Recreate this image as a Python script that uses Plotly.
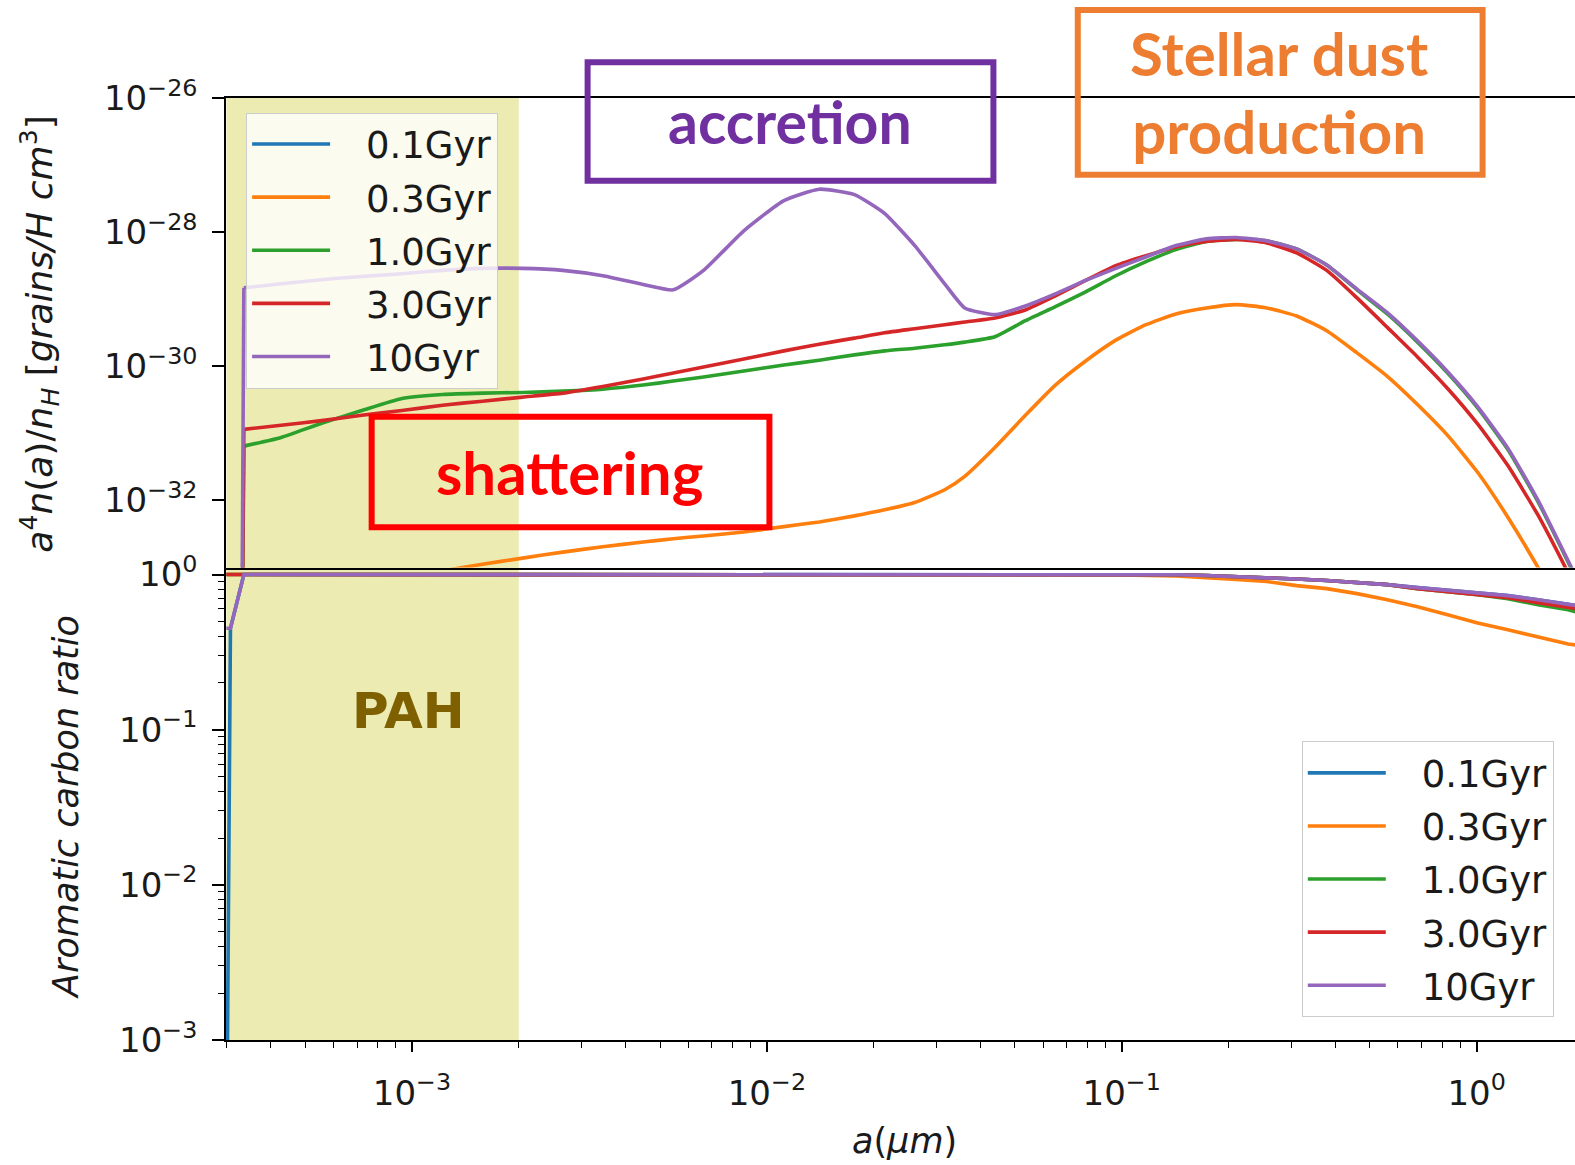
import numpy as np
import plotly.graph_objects as go

# ---------------- data ----------------
series_names = ["0.1Gyr", "0.3Gyr", "1.0Gyr", "3.0Gyr", "10Gyr"]
series_colors = ["#1f77b4", "#ff7f0e", "#2ca02c", "#d62728", "#9467bd"]

# grain radius a (micron), top panel
a_top = [3.3e-4, 3.36e-4, 4.28e-4, 5.56e-4, 7.22e-4, 9.37e-4, 1.22e-3, 1.58e-3, 2.05e-3, 2.66e-3,
         3.45e-3, 4.48e-3, 5.45e-3, 6.63e-3, 8.61e-3, 1.117e-2, 1.404e-2, 1.764e-2, 2.145e-2, 2.61e-2,
         3.17e-2, 3.61e-2, 4.39e-2, 5.35e-2, 6.50e-2, 7.91e-2, 9.62e-2, 0.117, 0.142, 0.173,
         0.210, 0.256, 0.311, 0.378, 0.460, 0.560, 0.681, 0.828, 1.006, 1.224, 1.489, 1.81, 2.0]

# log10 of a^4 n(a)/n_H
log_n_01 = [-40.0, -39.5, -39.2, -38.9, -38.6, -38.4, -38.2, -38.0, -37.8, -37.6,
            -37.4, -37.2, -37.0, -36.9, -36.8, -36.7, -36.6, -36.5, -36.4, -36.3,
            -36.2, -36.1, -36.0, -35.9, -35.8, -35.7, -35.6, -35.5, -35.4, -35.3,
            -35.3, -35.3, -35.4, -35.5, -35.6, -35.8, -36.0, -36.3, -36.6, -37.0, -37.5, -38.0, -38.3]
log_n_03 = [-36.0, -33.57, -33.47, -33.37, -33.26, -33.16, -33.05, -32.95, -32.86, -32.77,
            -32.69, -32.62, -32.57, -32.53, -32.47, -32.39, -32.32, -32.23, -32.14, -32.03,
            -31.84, -31.64, -31.21, -30.73, -30.28, -29.92, -29.61, -29.38, -29.22, -29.13,
            -29.08, -29.13, -29.25, -29.47, -29.80, -30.15, -30.57, -31.03, -31.58, -32.25, -33.00, -33.80, -34.20]
log_n_10 = [-36.0, -31.19, -31.06, -30.85, -30.66, -30.48, -30.42, -30.40, -30.39, -30.37,
            -30.34, -30.28, -30.22, -30.16, -30.07, -29.98, -29.91, -29.83, -29.77, -29.73,
            -29.68, -29.64, -29.56, -29.32, -29.11, -28.89, -28.65, -28.44, -28.26, -28.14,
            -28.11, -28.13, -28.25, -28.49, -28.86, -29.22, -29.64, -30.10, -30.62, -31.24, -32.02, -32.92, -33.40]
log_n_30 = [-36.0, -30.94, -30.88, -30.81, -30.73, -30.66, -30.58, -30.52, -30.46, -30.40,
            -30.30, -30.19, -30.10, -30.01, -29.89, -29.77, -29.67, -29.58, -29.50, -29.44,
            -29.38, -29.34, -29.28, -29.16, -28.95, -28.72, -28.50, -28.35, -28.22, -28.14,
            -28.11, -28.16, -28.31, -28.57, -28.98, -29.42, -29.86, -30.33, -30.86, -31.48, -32.22, -33.08, -33.55]
log_n_100 = [-36.0, -28.83, -28.77, -28.71, -28.66, -28.62, -28.57, -28.54, -28.54, -28.57,
             -28.65, -28.78, -28.86, -28.57, -27.98, -27.53, -27.36, -27.44, -27.72, -28.20,
             -28.77, -29.13, -29.23, -29.10, -28.92, -28.72, -28.54, -28.37, -28.20, -28.10,
             -28.08, -28.13, -28.25, -28.49, -28.85, -29.20, -29.62, -30.08, -30.60, -31.22, -32.00, -32.90, -33.37]

# grain radius a (micron), bottom panel
a_bot = [3.0e-4, 3.08e-4, 3.36e-4, 1.0e-3, 1.0e-2, 0.1, 0.142, 0.173, 0.21, 0.256, 0.311,
         0.378, 0.46, 0.56, 0.681, 0.828, 1.006, 1.224, 1.489, 1.81, 2.0]
# aromatic carbon ratio
ratio_01 = [1e-4, 0.45, 1.0, 1.0, 1.0, 1.0, 0.9955, 0.985, 0.970, 0.956, 0.935,
            0.914, 0.887, 0.861, 0.823, 0.793, 0.764, 0.731, 0.688, 0.648, 0.620]
ratio_03 = [1.0, 1.0, 1.0, 1.0, 1.0, 0.995, 0.978, 0.956, 0.928, 0.901, 0.848,
            0.811, 0.753, 0.688, 0.620, 0.550, 0.487, 0.440, 0.396, 0.357, 0.346]
ratio_10 = [1.0, 1.0, 1.0, 1.0, 1.0, 1.0, 0.9955, 0.985, 0.970, 0.956, 0.935,
            0.914, 0.887, 0.861, 0.811, 0.776, 0.742, 0.699, 0.638, 0.593, 0.558]
ratio_30 = [1.0, 1.0, 1.0, 1.0, 1.0, 1.0, 0.9955, 0.985, 0.970, 0.956, 0.935,
            0.914, 0.887, 0.861, 0.811, 0.776, 0.742, 0.709, 0.658, 0.620, 0.593]
ratio_100 = [0.45, 0.45, 1.0, 1.0, 1.0, 1.0, 0.9955, 0.985, 0.970, 0.956, 0.935,
             0.914, 0.887, 0.861, 0.823, 0.793, 0.764, 0.731, 0.688, 0.648, 0.620]

# tick labels
top_y_tickvals = [1e-32, 1e-30, 1e-28, 1e-26]
top_y_ticktext = ["10<sup>−32</sup>", "10<sup>−30</sup>", "10<sup>−28</sup>", "10<sup>−26</sup>"]
bot_y_tickvals = [1e-3, 1e-2, 1e-1, 1e0]
bot_y_ticktext = ["10<sup>−3</sup>", "10<sup>−2</sup>", "10<sup>−1</sup>", "10<sup>0</sup>"]
x_tickvals = [1e-3, 1e-2, 1e-1, 1e0]
x_ticktext = ["10<sup>−3</sup>", "10<sup>−2</sup>", "10<sup>−1</sup>", "10<sup>0</sup>"]

pah_range = [3.0e-4, 2.0e-3]   # PAH size band (micron)
x_range_log = [-3.524, 0.277]

top_series = [log_n_01, log_n_03, log_n_10, log_n_30, log_n_100]
bot_series = [ratio_01, ratio_03, ratio_10, ratio_30, ratio_100]

# ---------------- figure ----------------
W, H = 1575, 1165
ML, MR, MT, MB = 226, 0, 98, 125
PW, PH = W - ML - MR, H - MT - MB
K = 1575 / 1568.0   # layout positions below measured on a 1568-wide view


def px(xd):
    return (xd * K - ML) / PW


def py(yd):
    return (H - MB - yd * K) / PH


split = py(565)
NB = "\u00a0\u00a0\u2009"

fig = go.Figure()
for i, (nm, col) in enumerate(zip(series_names, series_colors)):
    yv = np.power(10.0, top_series[i])
    # steep rise at the smallest size
    fig.add_trace(go.Scatter(x=a_top[:2], y=yv[:2], mode="lines", showlegend=False,
                             line=dict(color=col, width=3.6), xaxis="x", yaxis="y",
                             legend="legend", legendgroup="t%d" % i, hoverinfo="skip"))
    fig.add_trace(go.Scatter(x=a_top[1:], y=yv[1:], mode="lines", name=NB + nm,
                             line=dict(color=col, width=3.6, shape="spline", smoothing=0.5),
                             xaxis="x", yaxis="y", legend="legend", legendgroup="t%d" % i))
for i, (nm, col) in enumerate(zip(series_names, series_colors)):
    fig.add_trace(go.Scatter(x=a_bot, y=bot_series[i], mode="lines", name=NB + nm,
                             line=dict(color=col, width=3.6), xaxis="x2", yaxis="y2",
                             legend="legend2", legendgroup="b%d" % i))

tickfont = dict(family="DejaVu Sans", size=34, color="#1a1a1a")
axcommon = dict(type="log", showgrid=False, zeroline=False, showline=True, linecolor="black",
                linewidth=1.5, tickcolor="black", tickwidth=1.5, tickfont=tickfont, automargin=False)
minor_ticks = dict(ticks="outside", ticklen=6, tickcolor="black", tickwidth=1.2, dtick="D1", showgrid=False)
legfont = dict(family="DejaVu Sans", size=37, color="#1a1a1a")

fig.update_layout(
    width=W, height=H,
    margin=dict(l=ML, r=MR, t=MT, b=MB),
    paper_bgcolor="white", plot_bgcolor="white",
    xaxis=dict(axcommon, domain=[0, 1], anchor="y", range=x_range_log, matches="x2",
               showticklabels=False, ticks="", mirror=True),
    yaxis=dict(axcommon, domain=[split, 1], anchor="x", range=[-33, -26],
               tickvals=top_y_tickvals, ticktext=top_y_ticktext,
               ticks="outside", ticklen=12, ticklabelstandoff=8),
    xaxis2=dict(axcommon, domain=[0, 1], anchor="y2", range=x_range_log,
                tickvals=x_tickvals, ticktext=x_ticktext,
                ticks="outside", ticklen=10, ticklabelstandoff=12, minor=minor_ticks),
    yaxis2=dict(axcommon, domain=[0, split], anchor="x2", range=[-3, 0.045],
                tickvals=bot_y_tickvals, ticktext=bot_y_ticktext,
                ticks="outside", ticklen=12, ticklabelstandoff=8, minor=minor_ticks),
    legend=dict(x=px(245), y=py(112), xanchor="left", yanchor="top",
                bgcolor="rgba(255,255,255,0.8)", bordercolor="#cccccc", borderwidth=1,
                font=legfont, itemwidth=78, tracegroupgap=2, traceorder="grouped"),
    legend2=dict(x=px(1296), y=py(738), xanchor="left", yanchor="top",
                 bgcolor="rgba(255,255,255,0.8)", bordercolor="#cccccc", borderwidth=1,
                 font=legfont, itemwidth=78, tracegroupgap=2, traceorder="grouped"),
    showlegend=True,
)

# PAH band (both panels)
fx0 = (np.log10(pah_range[0]) - x_range_log[0]) / (x_range_log[1] - x_range_log[0])
fx1 = (np.log10(pah_range[1]) - x_range_log[0]) / (x_range_log[1] - x_range_log[0])
fig.add_shape(type="rect", xref="paper", yref="paper", x0=max(fx0, 0), x1=fx1, y0=0, y1=1,
              fillcolor="rgba(191,191,0,0.3)", line=dict(width=0), layer="below")

# Annotation boxes
boxes = [
    (585, 989, 62, 180, "#7030a0"),
    (1073, 1476, 10, 174, "#ed7d31"),
    (370, 766, 415, 525, "#ff0000"),
]
for x0, x1, y0, y1, c in boxes:
    fig.add_shape(type="rect", xref="paper", yref="paper", x0=px(x0), x1=px(x1), y0=py(y0), y1=py(y1),
                  line=dict(color=c, width=6), fillcolor="rgba(0,0,0,0)", layer="above")

labels = [
    ("accretion", 786, 121, "#7030a0", "Lato", 59),
    ("Stellar dust<br>production", 1273, 92, "#ed7d31", "Lato", 60),
    ("shattering", 567, 470, "#ff0000", "Lato", 60),
    ("PAH", 407, 708, "#7f6000", "DejaVu Sans", 50),
]
for txt, x, y, c, fam, sz in labels:
    fig.add_annotation(text="<b>%s</b>" % txt, xref="paper", yref="paper", x=px(x), y=py(y),
                       xanchor="center", yanchor="middle", showarrow=False,
                       font=dict(family=fam, size=sz, color=c))

# axis titles
fig.add_annotation(text="<i>a</i><sup>4</sup><i>n</i>(<i>a</i>)/<i>n</i><sub><i>H</i></sub> [<i>grains/H cm</i><sup>3</sup>]",
                   xref="paper", yref="paper", x=px(40), y=py(333), textangle=-90,
                   xanchor="center", yanchor="middle",
                   showarrow=False, font=dict(family="DejaVu Sans", size=36, color="#1a1a1a"))
fig.add_annotation(text="<i>Aromatic carbon ratio</i>", xref="paper", yref="paper",
                   x=px(65), y=py(803), textangle=-90, xanchor="center", yanchor="middle",
                   showarrow=False, font=dict(family="DejaVu Sans", size=35, color="#1a1a1a"))
fig.add_annotation(text="<i>a</i>(<i>μm</i>)", xref="paper", yref="paper",
                   x=px(900), y=py(1136), xanchor="center", yanchor="middle", showarrow=False,
                   font=dict(family="DejaVu Sans", size=35, color="#1a1a1a"))

fig.write_html("out.html", config={"displayModeBar": False},
               post_script="document.body.style.margin='0px';")
